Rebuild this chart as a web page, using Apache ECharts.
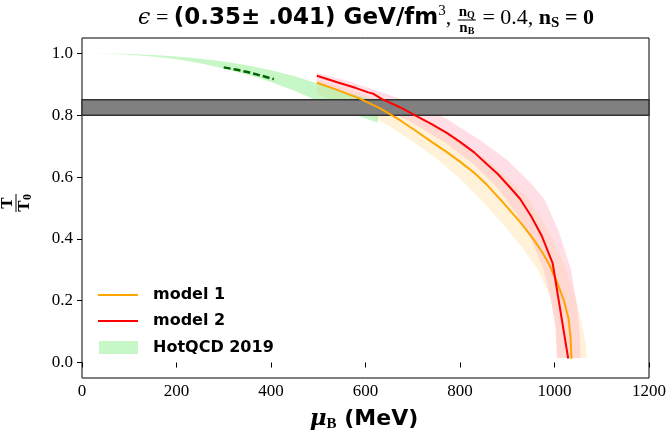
<!DOCTYPE html>
<html lang="en">
<head>
<meta charset="UTF-8">
<title>T/T0 vs muB</title>
<script src="https://cdn.jsdelivr.net/npm/echarts@6.0.0/dist/echarts.min.js"></script>
<style>
    html, body { margin: 0; padding: 0; background: #fff; }
    #chart { width: 666px; height: 433px; }
</style>
</head>
<body>
<div id="chart"></div>
<script>
    // values (muB in MeV, T/T0)
    var xTicks = [0, 200, 400, 600, 800, 1000, 1200];
    var yTicks = [0.0, 0.2, 0.4, 0.6, 0.8, 1.0];

    var model1Mu = [497, 540, 588, 631, 673, 710, 740, 770, 800, 830, 857, 890, 927, 955, 976, 990, 1005, 1020, 1030, 1034, 1036];
    var model1T = [0.905, 0.882, 0.854, 0.822, 0.784, 0.746, 0.714, 0.683, 0.650, 0.614, 0.575, 0.52, 0.455, 0.400, 0.352, 0.314, 0.262, 0.200, 0.14, 0.08, 0.012];

    var model2Mu = [497, 540, 580, 606, 616, 634, 673, 701, 740, 772, 800, 830, 856, 880, 905, 927, 950, 973, 996, 1029];
    var model2T = [0.928, 0.907, 0.888, 0.874, 0.870, 0.853, 0.826, 0.803, 0.771, 0.743, 0.714, 0.680, 0.643, 0.610, 0.568, 0.530, 0.475, 0.410, 0.322, 0.013];

    // uncertainty bands: upper/right edge and lower/left edge
    var band1UpMu = [497, 560, 630, 700, 770, 840, 900, 950, 990, 1020, 1045, 1060, 1067, 1069];
    var band1UpT = [0.915, 0.887, 0.848, 0.80, 0.745, 0.675, 0.60, 0.52, 0.42, 0.32, 0.21, 0.11, 0.05, 0.015];
    var band1LoMu = [497, 540, 600, 650, 700, 750, 800, 845, 890, 930, 965, 990, 1003, 1006];
    var band1LoT = [0.868, 0.845, 0.806, 0.765, 0.715, 0.660, 0.595, 0.525, 0.450, 0.375, 0.300, 0.215, 0.12, 0.015];

    var band2UpMu = [497, 560, 631, 700, 770, 842, 900, 950, 980, 1010, 1035, 1048, 1054, 1055];
    var band2UpT = [0.937, 0.912, 0.876, 0.838, 0.79, 0.72, 0.655, 0.58, 0.525, 0.42, 0.30, 0.18, 0.09, 0.015];
    var band2LoMu = [497, 560, 630, 700, 770, 830, 880, 920, 950, 975, 992, 1002, 1005];
    var band2LoT = [0.905, 0.872, 0.828, 0.775, 0.71, 0.64, 0.565, 0.48, 0.40, 0.31, 0.21, 0.11, 0.015];

    var qcdMu = [17, 60, 100, 150, 200, 250, 300, 350, 400, 450, 500, 560, 626];
    var qcdUpT = [1.0, 0.9995, 0.998, 0.995, 0.99, 0.983, 0.974, 0.962, 0.946, 0.926, 0.902, 0.873, 0.845];
    var qcdLoT = [1.0, 0.999, 0.996, 0.99, 0.981, 0.968, 0.951, 0.931, 0.908, 0.879, 0.845, 0.81, 0.777];

    var dashMu = [300, 325, 350, 375, 406];
    var dashT = [0.955, 0.948, 0.94, 0.93, 0.917];

    var lqcdBand = [0.80, 0.85];

    var measure = document.createElement('canvas').getContext('2d');

    function textW(t, f) {
        measure.font = f;
        return measure.measureText(t).width;
    }

    function pairs(xs, ys) {
        return xs.map(function (x, i) { return [x, ys[i]]; });
    }

    function bandRender(upMu, upT, loMu, loT, fill) {
        return function (params, api) {
            var pts = [];
            for (var i = 0; i < upMu.length; i++) pts.push(api.coord([upMu[i], upT[i]]));
            for (var j = loMu.length - 1; j >= 0; j--) pts.push(api.coord([loMu[j], loT[j]]));
            return { type: 'polygon', shape: { points: pts }, style: { fill: fill } };
        };
    }

    function greyRender(params, api) {
        var a = api.coord([xTicks[0], lqcdBand[1]]);
        var b = api.coord([xTicks[xTicks.length - 1], lqcdBand[0]]);
        return {
            type: 'rect',
            shape: { x: a[0], y: a[1], width: b[0] - a[0], height: b[1] - a[1] },
            style: { fill: '#808080', stroke: '#333', lineWidth: 1.5 }
        };
    }

    // lay out a row of mixed-font text pieces centred on cx
    function textRow(items, cx, cy) {
        var total = 0;
        items.forEach(function (it) {
            if (it.frac) {
                it.wn = textW(it.num[0], it.f1) + textW(it.num[1], it.f2);
                it.wd = textW(it.den[0], it.f1) + textW(it.den[1], it.f2);
                it.w = Math.max(it.wn, it.wd) + 4;
            } else {
                it.w = textW(it.t, it.f);
            }
            total += it.w;
        });
        var x = cx - total / 2, out = [];
        items.forEach(function (it) {
            if (it.frac) {
                var nx = x + (it.w - it.wn) / 2, dx = x + (it.w - it.wd) / 2;
                var n0 = textW(it.num[0], it.f1), d0 = textW(it.den[0], it.f1);
                out.push({ type: 'text', x: nx, y: cy - 6, style: { text: it.num[0], font: it.f1, fill: '#000', verticalAlign: 'middle' } });
                out.push({ type: 'text', x: nx + n0, y: cy - 3, style: { text: it.num[1], font: it.f2, fill: '#000', verticalAlign: 'middle' } });
                out.push({ type: 'line', shape: { x1: x + 1, y1: cy + 2, x2: x + it.w - 1, y2: cy + 2 }, style: { stroke: '#000', lineWidth: 1 } });
                out.push({ type: 'text', x: dx, y: cy + 10, style: { text: it.den[0], font: it.f1, fill: '#000', verticalAlign: 'middle' } });
                out.push({ type: 'text', x: dx + d0, y: cy + 13, style: { text: it.den[1], font: it.f2, fill: '#000', verticalAlign: 'middle' } });
            } else {
                out.push({ type: 'text', x: x, y: cy + (it.dy || 0), style: { text: it.t, font: it.f, fill: '#000', verticalAlign: 'middle' } });
            }
            x += it.w;
        });
        return out;
    }

    var serif = '"Liberation Serif"';
    var titleParts = textRow([
        { t: 'ϵ', f: 'italic 22px "DejaVu Serif"' },
        { t: ' = ', f: '22px ' + serif },
        { t: '(0.35± .041) GeV/fm', f: 'bold 23px "DejaVu Sans"' },
        { t: '3', f: '15px ' + serif, dy: -7 },
        { t: ', ', f: '22px ' + serif },
        { frac: true, num: ['n', 'Q'], den: ['n', 'B'], f1: 'bold 15px ' + serif, f2: 'bold 10px ' + serif },
        { t: ' = 0.4, ', f: '22px ' + serif },
        { t: 'n', f: 'bold 22px ' + serif },
        { t: 'S', f: 'bold 15px ' + serif, dy: 5 },
        { t: ' = 0', f: 'bold 22px ' + serif }
    ], 366, 18);

    var xLabelParts = textRow([
        { t: 'μ', f: 'bold italic 23px "DejaVu Serif"' },
        { t: 'B', f: 'bold 15px ' + serif, dy: 5 },
        { t: ' (MeV)', f: 'bold 22px "DejaVu Sans"' }
    ], 364, 419);

    var yLabel = {
        type: 'group', x: 16, y: 203, rotation: Math.PI / 2,
        children: [
            { type: 'text', x: 0, y: -8, style: { text: 'T', font: 'bold 17px ' + serif, fill: '#000', align: 'center', verticalAlign: 'middle' } },
            { type: 'line', shape: { x1: -9, y1: 0, x2: 9, y2: 0 }, style: { stroke: '#000', lineWidth: 1 } },
            { type: 'text', x: -3, y: 9, style: { text: 'T', font: 'bold 17px ' + serif, fill: '#000', align: 'center', verticalAlign: 'middle' } },
            { type: 'text', x: 6, y: 12, style: { text: '0', font: 'bold 12px ' + serif, fill: '#000', align: 'center', verticalAlign: 'middle' } }
        ]
    };

    var legendFont = 'bold 16px "DejaVu Sans"';
    var legendParts = [
        { type: 'line', shape: { x1: 98, y1: 295, x2: 138, y2: 295 }, style: { stroke: 'orange', lineWidth: 2 } },
        { type: 'text', x: 153, y: 295, style: { text: 'model 1', font: legendFont, fill: '#000', verticalAlign: 'middle' } },
        { type: 'line', shape: { x1: 98, y1: 321, x2: 138, y2: 321 }, style: { stroke: 'red', lineWidth: 2 } },
        { type: 'text', x: 153, y: 321, style: { text: 'model 2', font: legendFont, fill: '#000', verticalAlign: 'middle' } },
        { type: 'rect', shape: { x: 99, y: 341, width: 39, height: 13 }, style: { fill: 'rgba(144,238,144,0.5)' } },
        { type: 'text', x: 153, y: 348, style: { text: 'HotQCD 2019', font: legendFont, fill: '#000', verticalAlign: 'middle' } }
    ];

    function initChart() {
        var myChart = echarts.init(document.getElementById('chart'));
        var tickLabel = { color: '#000', fontFamily: 'Liberation Serif', fontSize: 17 };
        myChart.setOption({
            animation: false,
            grid: { left: 82, right: 17, top: 38, bottom: 55, show: true, borderColor: '#000', borderWidth: 1, outerBoundsMode: 'none' },
            xAxis: {
                type: 'value', min: 0, max: 1200, interval: 200,
                axisLine: { show: false },
                axisTick: { show: true, length: 5, lineStyle: { color: '#000' }, customValues: xTicks },
                axisLabel: Object.assign({ margin: 5, customValues: xTicks, formatter: function (v) { return String(v); } }, tickLabel),
                splitLine: { show: false }
            },
            yAxis: {
                type: 'value', min: -0.05, max: 1.05,
                axisLine: { show: false },
                axisTick: { show: true, length: 5, lineStyle: { color: '#000' }, customValues: yTicks },
                axisLabel: Object.assign({ margin: 9, customValues: yTicks, formatter: function (v) { return v.toFixed(1); } }, tickLabel),
                splitLine: { show: false }
            },
            graphic: titleParts.concat(xLabelParts, [yLabel], legendParts),
            series: [
                { type: 'custom', data: [[0, 0]], renderItem: bandRender(band1UpMu, band1UpT, band1LoMu, band1LoT, 'rgba(255,165,0,0.15)'), silent: true },
                { type: 'custom', data: [[0, 0]], renderItem: bandRender(band2UpMu, band2UpT, band2LoMu, band2LoT, 'rgba(255,192,203,0.5)'), silent: true },
                { type: 'custom', data: [[0, 0]], renderItem: bandRender(qcdMu, qcdUpT, qcdMu, qcdLoT, 'rgba(144,238,144,0.5)'), silent: true },
                { type: 'custom', data: [[0, 0]], renderItem: greyRender, silent: true },
                { type: 'line', data: pairs(dashMu, dashT), showSymbol: false, lineStyle: { color: '#006400', width: 2.5, type: [7, 3] } },
                { type: 'line', data: pairs(model1Mu, model1T), showSymbol: false, lineStyle: { color: 'orange', width: 2 } },
                { type: 'line', data: pairs(model2Mu, model2T), showSymbol: false, lineStyle: { color: 'red', width: 2 } }
            ]
        });
        window.onresize = function () {
            myChart.resize();
        };
    }

    initChart();
</script>
</body>
</html>
